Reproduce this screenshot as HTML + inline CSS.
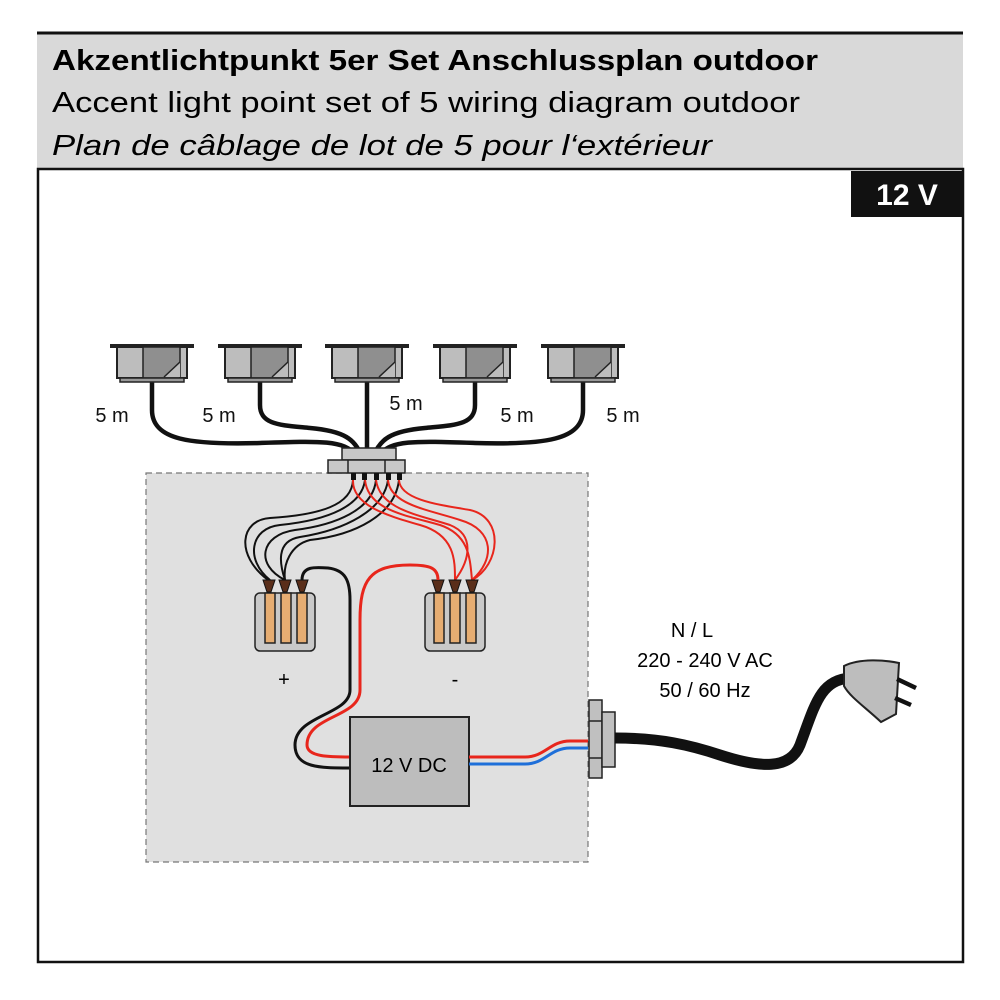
<!DOCTYPE html>
<html><head><meta charset="utf-8"><style>
html,body{margin:0;padding:0;background:#fff;}
svg{display:block;}
text{font-family:"Liberation Sans",sans-serif;}
</style></head><body>
<svg width="1000" height="1000" viewBox="0 0 1000 1000" xmlns="http://www.w3.org/2000/svg">
<rect x="0" y="0" width="1000" height="1000" fill="#fff"/>
<rect x="37" y="33" width="926" height="135" fill="#d9d9d9"/>
<line x1="37" y1="33" x2="963" y2="33" stroke="#111" stroke-width="3"/>
<text x="52" y="70" font-size="29" font-weight="bold" textLength="766" lengthAdjust="spacingAndGlyphs" style="font-family:'Liberation Sans Narrow','Liberation Sans',sans-serif">Akzentlichtpunkt 5er Set Anschlussplan outdoor</text>
<text x="52" y="112" font-size="29" textLength="748" lengthAdjust="spacingAndGlyphs" style="font-family:'Liberation Sans Narrow','Liberation Sans',sans-serif">Accent light point set of 5 wiring diagram outdoor</text>
<text x="52" y="155" font-size="29" font-style="italic" textLength="660" lengthAdjust="spacingAndGlyphs" style="font-family:'Liberation Sans Narrow','Liberation Sans',sans-serif">Plan de câblage de lot de 5 pour l‘extérieur</text>
<rect x="38" y="169" width="925" height="793" fill="#fff" stroke="#111" stroke-width="2.5"/>
<rect x="851" y="171" width="112" height="46" fill="#111"/>
<text x="907" y="205" font-size="30" font-weight="bold" fill="#fff" text-anchor="middle">12 V</text>

<rect x="146" y="473" width="442" height="389" fill="#e0e0e0" stroke="#777" stroke-width="1.2" stroke-dasharray="6,4"/>

<g fill="none" stroke="#111" stroke-width="4.5">
<path d="M152 380 V410 C152 440 190 445 260 443 C320 441 345 440 355 455"/>
<path d="M260 380 V405 C260 425 280 425 310 428 C345 431 355 440 361 455"/>
<path d="M367 380 V455"/>
<path d="M475 380 V405 C475 425 455 425 425 428 C390 431 380 440 374 455"/>
<path d="M583 380 V410 C583 440 545 445 475 443 C415 441 390 440 380 455"/>
</g>
<g id="lights">
<g transform="translate(152,0)">
<rect x="-42" y="344" width="84" height="4" fill="#222"/>
<rect x="-35" y="347" width="70" height="31" fill="#bdbdbd" stroke="#222" stroke-width="2"/>
<rect x="-9" y="347" width="37" height="31" fill="#8f8f8f" stroke="#222" stroke-width="1.5"/>
<path d="M12 377 L28 362 V377 Z" fill="#bdbdbd"/>
<line x1="12" y1="377" x2="28" y2="362" stroke="#222" stroke-width="1.5"/>
<rect x="-32" y="378" width="64" height="4" fill="#999" stroke="#222" stroke-width="1.5"/>
</g>
</g>
<use href="#lights" x="108"/>
<use href="#lights" x="215"/>
<use href="#lights" x="323"/>
<use href="#lights" x="431"/>

<g font-size="20" text-anchor="middle" fill="#111">
<text x="112" y="422">5 m</text>
<text x="219" y="422">5 m</text>
<text x="406" y="410">5 m</text>
<text x="517" y="422">5 m</text>
<text x="623" y="422">5 m</text>
</g>

<rect x="342" y="448" width="54" height="12" fill="#c8c8c8" stroke="#222" stroke-width="1.5"/>
<rect x="328" y="460" width="77" height="13" fill="#c8c8c8" stroke="#222" stroke-width="1.5"/>
<line x1="348" y1="460" x2="348" y2="473" stroke="#222" stroke-width="1.5"/>
<line x1="385" y1="460" x2="385" y2="473" stroke="#222" stroke-width="1.5"/>
<g fill="#111">
<rect x="351" y="473" width="5" height="7"/><rect x="362" y="473" width="5" height="7"/><rect x="374" y="473" width="5" height="7"/><rect x="386" y="473" width="5" height="7"/><rect x="397" y="473" width="5" height="7"/>
</g>

<g fill="none" stroke="#111" stroke-width="2">
<path d="M353 480 C352 505 320 515 270 518 C240 520 235 555 268 580"/>
<path d="M365 480 C362 505 330 520 280 525 C250 528 245 560 270 580"/>
<path d="M376 480 C373 510 335 525 295 530 C260 535 255 565 285 580"/>
<path d="M388 480 C384 510 345 530 300 537 C275 541 280 565 285 580"/>
<path d="M399 480 C395 515 355 535 310 540 C290 545 283 565 285 580"/>
</g>
<g fill="none" stroke="#e8261c" stroke-width="2">
<path d="M353 480 C352 505 385 515 420 525 C455 535 455 560 455 580"/>
<path d="M365 480 C368 510 405 515 440 525 C470 535 470 560 472 580"/>
<path d="M376 480 C380 510 420 515 450 525 C475 535 470 560 455 580"/>
<path d="M388 480 C390 505 430 510 460 520 C495 530 495 560 472 580"/>
<path d="M399 480 C400 500 440 505 470 510 C505 518 500 565 472 580"/>
</g>

<g stroke="#222" stroke-width="1.5">
<rect x="255" y="593" width="60" height="58" rx="5" fill="#c9c9c9"/>
<rect x="265" y="593" width="10" height="50" fill="#e6ad72"/><rect x="281" y="593" width="10" height="50" fill="#e6ad72"/><rect x="297" y="593" width="10" height="50" fill="#e6ad72"/>
<rect x="425" y="593" width="60" height="58" rx="5" fill="#c9c9c9"/>
<rect x="434" y="593" width="10" height="50" fill="#e6ad72"/><rect x="450" y="593" width="10" height="50" fill="#e6ad72"/><rect x="466" y="593" width="10" height="50" fill="#e6ad72"/>
</g>
<g fill="#5a2e1a" stroke="#111" stroke-width="1">
<path d="M263 580 H275 L271 592 H267 Z"/><path d="M279 580 H291 L287 592 H283 Z"/><path d="M296 580 H308 L304 592 H300 Z"/>
<path d="M432 580 H444 L440 592 H436 Z"/><path d="M449 580 H461 L457 592 H453 Z"/><path d="M466 580 H478 L474 592 H470 Z"/>
</g>

<path d="M302 580 C302 566 315 567 328 568 C345 570 350 580 350 600 V690 C350 715 295 715 295 745 C295 768 320 768 350 768" fill="none" stroke="#111" stroke-width="3"/>
<path d="M438 580 C438 568 430 565 410 565 C370 565 360 580 360 620 V690 C360 718 307 715 307 745 C307 757 330 757 350 757" fill="none" stroke="#e8261c" stroke-width="3"/>

<text x="284" y="686" font-size="20" text-anchor="middle">+</text>
<text x="455" y="686" font-size="20" text-anchor="middle">-</text>

<rect x="350" y="717" width="119" height="89" fill="#bdbdbd" stroke="#222" stroke-width="2"/>
<text x="409" y="772" font-size="20" text-anchor="middle">12 V DC</text>
<path d="M469 757 H525 C545 757 550 741 570 741 H588" fill="none" stroke="#e8261c" stroke-width="3"/>
<path d="M469 764 H525 C545 764 550 748 570 748 H588" fill="none" stroke="#1e6fd9" stroke-width="3"/>

<g fill="#c0c0c0" stroke="#222" stroke-width="1.5">
<rect x="589" y="700" width="13" height="78"/>
<line x1="589" y1="721" x2="602" y2="721"/><line x1="589" y1="758" x2="602" y2="758"/>
<rect x="602" y="712" width="13" height="55"/>
</g>
<path d="M615 738 C660 738 690 745 720 755 C760 768 790 770 800 745 C815 705 820 680 850 678" fill="none" stroke="#111" stroke-width="11"/>
<path d="M844 666 C860 658 885 660 899 663 L896 714 L881 722 C865 707 850 697 844 686 Z" fill="#bdbdbd" stroke="#222" stroke-width="2"/>
<line x1="897" y1="679" x2="916" y2="688" stroke="#111" stroke-width="4.5"/>
<line x1="895" y1="698" x2="911" y2="705" stroke="#111" stroke-width="4.5"/>

<g font-size="20" text-anchor="middle">
<text x="692" y="637">N / L</text>
<text x="705" y="667">220 - 240 V AC</text>
<text x="705" y="697">50 / 60 Hz</text>
</g>
</svg>
</body></html>
